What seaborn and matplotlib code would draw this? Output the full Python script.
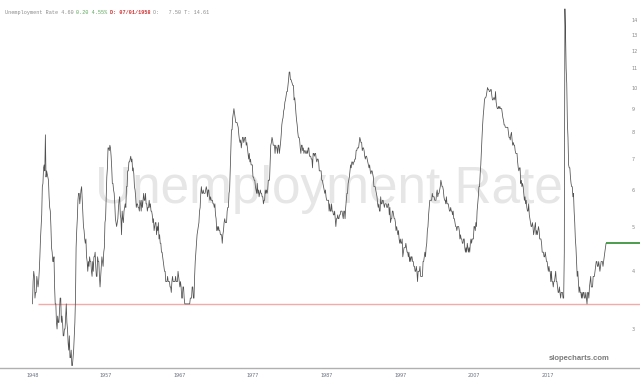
import numpy as np
import pandas as pd
import matplotlib
matplotlib.use("Agg")
import matplotlib.pyplot as plt
import seaborn as sns

# Monthly US unemployment rate (%), Jan 1948 .. Nov 2025 (Oct 2025 missing)
rate_1940s = [3.4, 3.8, 4.0, 3.9, 3.5, 3.6, 3.6, 3.9, 3.8, 3.7, 3.8, 4.0,
              4.3, 4.7, 5.0, 5.3, 6.1, 6.2, 6.7, 6.8, 6.6, 7.9, 6.4, 6.6]
rate_1950s = [6.5, 6.4, 6.3, 5.8, 5.5, 5.4, 5.0, 4.5, 4.4, 4.2, 4.2, 4.3,
              3.7, 3.4, 3.4, 3.1, 3.0, 3.2, 3.1, 3.1, 3.3, 3.5, 3.5, 3.1,
              3.2, 3.1, 2.9, 2.9, 3.0, 3.0, 3.2, 3.4, 3.1, 3.0, 2.8, 2.7,
              2.9, 2.6, 2.6, 2.7, 2.5, 2.5, 2.6, 2.7, 2.9, 3.1, 3.5, 4.5,
              4.9, 5.2, 5.7, 5.9, 5.9, 5.6, 5.8, 6.0, 6.1, 5.7, 5.3, 5.0,
              4.9, 4.7, 4.6, 4.7, 4.3, 4.2, 4.0, 4.2, 4.1, 4.3, 4.2, 4.2,
              4.0, 3.9, 4.2, 4.0, 4.3, 4.3, 4.4, 4.1, 3.9, 3.9, 4.3, 4.2,
              4.2, 3.9, 3.7, 3.9, 4.1, 4.3, 4.2, 4.1, 4.4, 4.5, 5.1, 5.2,
              5.8, 6.4, 6.7, 7.4, 7.4, 7.3, 7.5, 7.4, 7.1, 6.7, 6.2, 6.2,
              6.0, 5.9, 5.6, 5.2, 5.1, 5.0, 5.1, 5.2, 5.5, 5.7, 5.8, 5.3]
rate_1960s = [5.2, 4.8, 5.4, 5.2, 5.1, 5.4, 5.5, 5.6, 5.5, 6.1, 6.1, 6.6,
              6.6, 6.9, 6.9, 7.0, 7.1, 6.9, 7.0, 6.6, 6.7, 6.5, 6.1, 6.0,
              5.8, 5.5, 5.6, 5.6, 5.5, 5.5, 5.4, 5.7, 5.6, 5.4, 5.7, 5.5,
              5.7, 5.9, 5.7, 5.7, 5.9, 5.6, 5.6, 5.4, 5.5, 5.5, 5.7, 5.5,
              5.6, 5.4, 5.4, 5.3, 5.1, 5.2, 4.9, 5.0, 5.1, 5.1, 4.8, 5.0,
              4.9, 5.1, 4.7, 4.8, 4.6, 4.6, 4.4, 4.4, 4.3, 4.2, 4.1, 4.0,
              4.0, 3.8, 3.8, 3.8, 3.9, 3.8, 3.8, 3.8, 3.7, 3.7, 3.6, 3.8,
              3.9, 3.8, 3.8, 3.8, 3.8, 3.9, 3.8, 3.8, 3.8, 4.0, 3.9, 3.8,
              3.7, 3.8, 3.7, 3.5, 3.5, 3.7, 3.7, 3.5, 3.4, 3.4, 3.4, 3.4,
              3.4, 3.4, 3.4, 3.4, 3.4, 3.5, 3.5, 3.5, 3.7, 3.7, 3.5, 3.5]
rate_1970s = [3.9, 4.2, 4.4, 4.6, 4.8, 4.9, 5.0, 5.1, 5.4, 5.5, 5.9, 6.1,
              5.9, 5.9, 6.0, 5.9, 5.9, 5.9, 6.0, 6.1, 6.0, 5.8, 6.0, 6.0,
              5.8, 5.7, 5.8, 5.7, 5.7, 5.7, 5.6, 5.6, 5.5, 5.6, 5.3, 5.2,
              4.9, 5.0, 4.9, 5.0, 4.9, 4.9, 4.8, 4.8, 4.8, 4.6, 4.8, 4.9,
              5.1, 5.2, 5.1, 5.1, 5.1, 5.4, 5.5, 5.5, 5.9, 6.0, 6.6, 7.2,
              8.1, 8.1, 8.6, 8.8, 9.0, 8.8, 8.6, 8.4, 8.4, 8.4, 8.3, 8.2,
              7.9, 7.7, 7.6, 7.7, 7.4, 7.6, 7.8, 7.8, 7.6, 7.7, 7.8, 7.8,
              7.5, 7.6, 7.4, 7.2, 7.0, 7.2, 6.9, 7.0, 6.8, 6.8, 6.8, 6.4,
              6.4, 6.3, 6.3, 6.1, 6.0, 5.9, 6.2, 5.9, 6.0, 5.8, 5.9, 6.0,
              5.9, 5.9, 5.8, 5.8, 5.6, 5.7, 5.7, 6.0, 5.9, 6.0, 5.9, 6.0]
rate_1980s = [6.3, 6.3, 6.3, 6.9, 7.5, 7.6, 7.8, 7.7, 7.5, 7.5, 7.5, 7.2,
              7.5, 7.4, 7.4, 7.2, 7.5, 7.5, 7.2, 7.4, 7.6, 7.9, 8.3, 8.5,
              8.6, 8.9, 9.0, 9.3, 9.4, 9.6, 9.8, 9.8, 10.1, 10.4, 10.8, 10.8,
              10.4, 10.4, 10.3, 10.2, 10.1, 10.1, 9.4, 9.5, 9.2, 8.8, 8.5, 8.3,
              8.0, 7.8, 7.8, 7.7, 7.4, 7.2, 7.5, 7.5, 7.3, 7.4, 7.2, 7.3,
              7.3, 7.2, 7.2, 7.3, 7.2, 7.4, 7.4, 7.1, 7.1, 7.1, 7.0, 7.0,
              6.7, 7.2, 7.2, 7.1, 7.2, 7.2, 7.0, 6.9, 7.0, 7.0, 6.9, 6.6,
              6.6, 6.6, 6.6, 6.3, 6.3, 6.2, 6.1, 6.0, 5.9, 6.0, 5.8, 5.7,
              5.7, 5.7, 5.7, 5.4, 5.6, 5.4, 5.4, 5.6, 5.4, 5.4, 5.3, 5.3,
              5.4, 5.2, 5.0, 5.2, 5.2, 5.3, 5.2, 5.2, 5.3, 5.3, 5.4, 5.4]
rate_1990s = [5.4, 5.3, 5.2, 5.4, 5.4, 5.2, 5.5, 5.7, 5.9, 5.9, 6.2, 6.3,
              6.4, 6.6, 6.8, 6.7, 6.9, 6.9, 6.8, 6.9, 6.9, 7.0, 7.0, 7.3,
              7.3, 7.4, 7.4, 7.4, 7.6, 7.8, 7.7, 7.6, 7.6, 7.3, 7.4, 7.4,
              7.3, 7.1, 7.0, 7.1, 7.1, 7.0, 6.9, 6.8, 6.7, 6.8, 6.6, 6.5,
              6.6, 6.6, 6.5, 6.4, 6.1, 6.1, 6.1, 6.0, 5.9, 5.8, 5.6, 5.5,
              5.6, 5.4, 5.4, 5.8, 5.6, 5.6, 5.7, 5.7, 5.6, 5.5, 5.6, 5.6,
              5.6, 5.5, 5.5, 5.6, 5.6, 5.3, 5.5, 5.1, 5.2, 5.2, 5.4, 5.4,
              5.3, 5.2, 5.2, 5.1, 4.9, 5.0, 4.9, 4.8, 4.9, 4.7, 4.6, 4.7,
              4.6, 4.6, 4.7, 4.3, 4.4, 4.5, 4.5, 4.5, 4.6, 4.5, 4.4, 4.4,
              4.3, 4.4, 4.2, 4.3, 4.2, 4.3, 4.3, 4.2, 4.2, 4.1, 4.1, 4.0]
rate_2000s = [4.0, 4.1, 4.0, 3.8, 4.0, 4.0, 4.0, 4.1, 3.9, 3.9, 3.9, 3.9,
              4.2, 4.2, 4.3, 4.4, 4.3, 4.5, 4.6, 4.9, 5.0, 5.3, 5.5, 5.7,
              5.7, 5.7, 5.7, 5.9, 5.8, 5.8, 5.8, 5.7, 5.7, 5.7, 5.9, 6.0,
              5.8, 5.9, 5.9, 6.0, 6.1, 6.3, 6.2, 6.1, 6.1, 6.0, 5.8, 5.7,
              5.7, 5.6, 5.8, 5.6, 5.6, 5.6, 5.5, 5.4, 5.4, 5.5, 5.4, 5.4,
              5.3, 5.4, 5.2, 5.2, 5.1, 5.0, 5.0, 4.9, 5.0, 5.0, 5.0, 4.9,
              4.7, 4.8, 4.7, 4.7, 4.6, 4.6, 4.7, 4.7, 4.5, 4.4, 4.5, 4.4,
              4.6, 4.5, 4.4, 4.5, 4.4, 4.6, 4.7, 4.6, 4.7, 4.7, 4.7, 5.0,
              5.0, 4.9, 5.1, 5.0, 5.4, 5.6, 5.8, 6.1, 6.1, 6.5, 6.8, 7.3,
              7.8, 8.3, 8.7, 9.0, 9.4, 9.5, 9.5, 9.6, 9.8, 10.0, 9.9, 9.9]
rate_2010s = [9.8, 9.8, 9.9, 9.9, 9.6, 9.4, 9.4, 9.5, 9.5, 9.4, 9.8, 9.3,
              9.1, 9.0, 9.0, 9.1, 9.0, 9.1, 9.0, 9.0, 9.0, 8.8, 8.6, 8.5,
              8.3, 8.3, 8.2, 8.2, 8.2, 8.2, 8.2, 8.0, 7.8, 7.8, 7.7, 7.9,
              8.0, 7.7, 7.5, 7.6, 7.5, 7.5, 7.3, 7.2, 7.2, 7.2, 6.9, 6.7,
              6.6, 6.7, 6.7, 6.2, 6.3, 6.1, 6.2, 6.1, 5.9, 5.7, 5.8, 5.6,
              5.7, 5.5, 5.4, 5.4, 5.6, 5.3, 5.2, 5.1, 5.0, 5.0, 5.1, 5.0,
              4.8, 4.9, 5.0, 5.1, 4.8, 4.9, 4.8, 4.9, 5.0, 4.9, 4.7, 4.7,
              4.7, 4.6, 4.4, 4.4, 4.4, 4.3, 4.3, 4.4, 4.3, 4.2, 4.2, 4.1,
              4.0, 4.1, 4.0, 4.0, 3.8, 4.0, 3.8, 3.8, 3.7, 3.8, 3.8, 3.9,
              4.0, 3.8, 3.8, 3.7, 3.6, 3.6, 3.7, 3.6, 3.5, 3.6, 3.6, 3.6]
rate_2020s = [3.5, 3.5, 4.4, 14.8, 13.2, 11.0, 10.2, 8.4, 7.8, 6.8, 6.7, 6.7,
              6.4, 6.2, 6.1, 6.1, 5.8, 5.9, 5.4, 5.1, 4.7, 4.5, 4.2, 3.9,
              4.0, 3.8, 3.6, 3.7, 3.6, 3.6, 3.5, 3.6, 3.5, 3.6, 3.6, 3.5,
              3.5, 3.6, 3.5, 3.4, 3.6, 3.6, 3.5, 3.7, 3.8, 3.9, 3.7, 3.7,
              3.7, 3.9, 3.9, 3.9, 4.0, 4.1, 4.2, 4.2, 4.1, 4.1, 4.2, 4.1,
              4.0, 4.1, 4.2, 4.2, 4.2, 4.1, 4.2, 4.3, 4.4, 4.6]

x_tick_years = [1948.0, 1957.92, 1967.92, 1977.92, 1987.92, 1997.92, 2007.92, 2017.92]
x_tick_labels = ["1948", "1957", "1967", "1977", "1987", "1997", "2007", "2017"]
y_ticks = [3, 4, 5, 6, 7, 8, 9, 10, 11, 12, 13, 14]
support_level = 3.4
last_value = 4.6

values = rate_1940s + rate_1950s + rate_1960s + rate_1970s + rate_1980s + \
    rate_1990s + rate_2000s + rate_2010s + rate_2020s
dates = pd.date_range("1948-01-01", "2025-11-01", freq="MS")
dates = dates[dates != pd.Timestamp("2025-10-01")]
dec_year = dates.year + (dates.month - 1) / 12.0
df = pd.DataFrame({"year": dec_year, "rate": values})

sns.set_theme(style="white")
fig = plt.figure(figsize=(6.4, 3.82), dpi=100)
ax = fig.add_axes([0, 14 / 382, 1, 368 / 382])

sns.lineplot(data=df, x="year", y="rate", ax=ax, color="#505050", linewidth=0.55)

xmin, xmax = 1943.59, 2030.44
ax.set_xlim(xmin, xmax)
ax.set_yscale("log")
ax.set_ylim(2.47, 15.47)

ax.hlines(support_level, 1948.75, xmax, color="#f6a9a9", linewidth=1.0, zorder=1)
ax.hlines(last_value, df["year"].iloc[-1], xmax, color="#2e8b2e", linewidth=1.2, zorder=3)

ax.text(0.514, 0.485, "Unemployment Rate", transform=ax.transAxes, ha="center", va="center",
        fontsize=37, color="#e6e6e6", family="Liberation Sans", zorder=0)

for s in ["top", "left", "right"]:
    ax.spines[s].set_visible(False)
ax.spines["bottom"].set_color("#b0b0b0")
ax.spines["bottom"].set_linewidth(1.0)

ax.yaxis.tick_right()
ax.yaxis.set_major_locator(matplotlib.ticker.FixedLocator(y_ticks))
ax.yaxis.set_minor_locator(matplotlib.ticker.NullLocator())
ax.yaxis.set_major_formatter(matplotlib.ticker.FixedFormatter([str(v) for v in y_ticks]))
ax.tick_params(axis="y", length=0, pad=-6, labelsize=3.5, labelcolor="#888888")
ax.set_xticks(x_tick_years)
ax.set_xticklabels(x_tick_labels)
ax.tick_params(axis="x", length=0, pad=3.5, labelsize=3.5, labelcolor="#6a7080")
ax.set_xlabel("")
ax.set_ylabel("")
ax.grid(False)

ax.text(0.953, 0.015, "slopecharts.com", transform=ax.transAxes, ha="right", va="bottom",
        fontsize=5.5, color="#7a7a7a", fontweight="bold", family="Liberation Sans")

# header
cw = 3.08 / 640.0
y_h = 1 - 14 / 382
segs = [("Unemployment Rate 4.60", 0, "#8a8a8a", "normal"),
        ("0.20 4.55%", 23, "#5aa55a", "normal"),
        ("D: 07/01/1958", 34, "#d03030", "bold"),
        ("O:   7.50 T: 14.61", 48, "#8a8a8a", "normal")]
for txt, idx, col, wt in segs:
    fig.text(5 / 640 + idx * cw, y_h, txt, fontsize=3.7, color=col, fontweight=wt,
             family="Liberation Mono", ha="left", va="baseline")

fig.savefig("out.png", dpi=100)
